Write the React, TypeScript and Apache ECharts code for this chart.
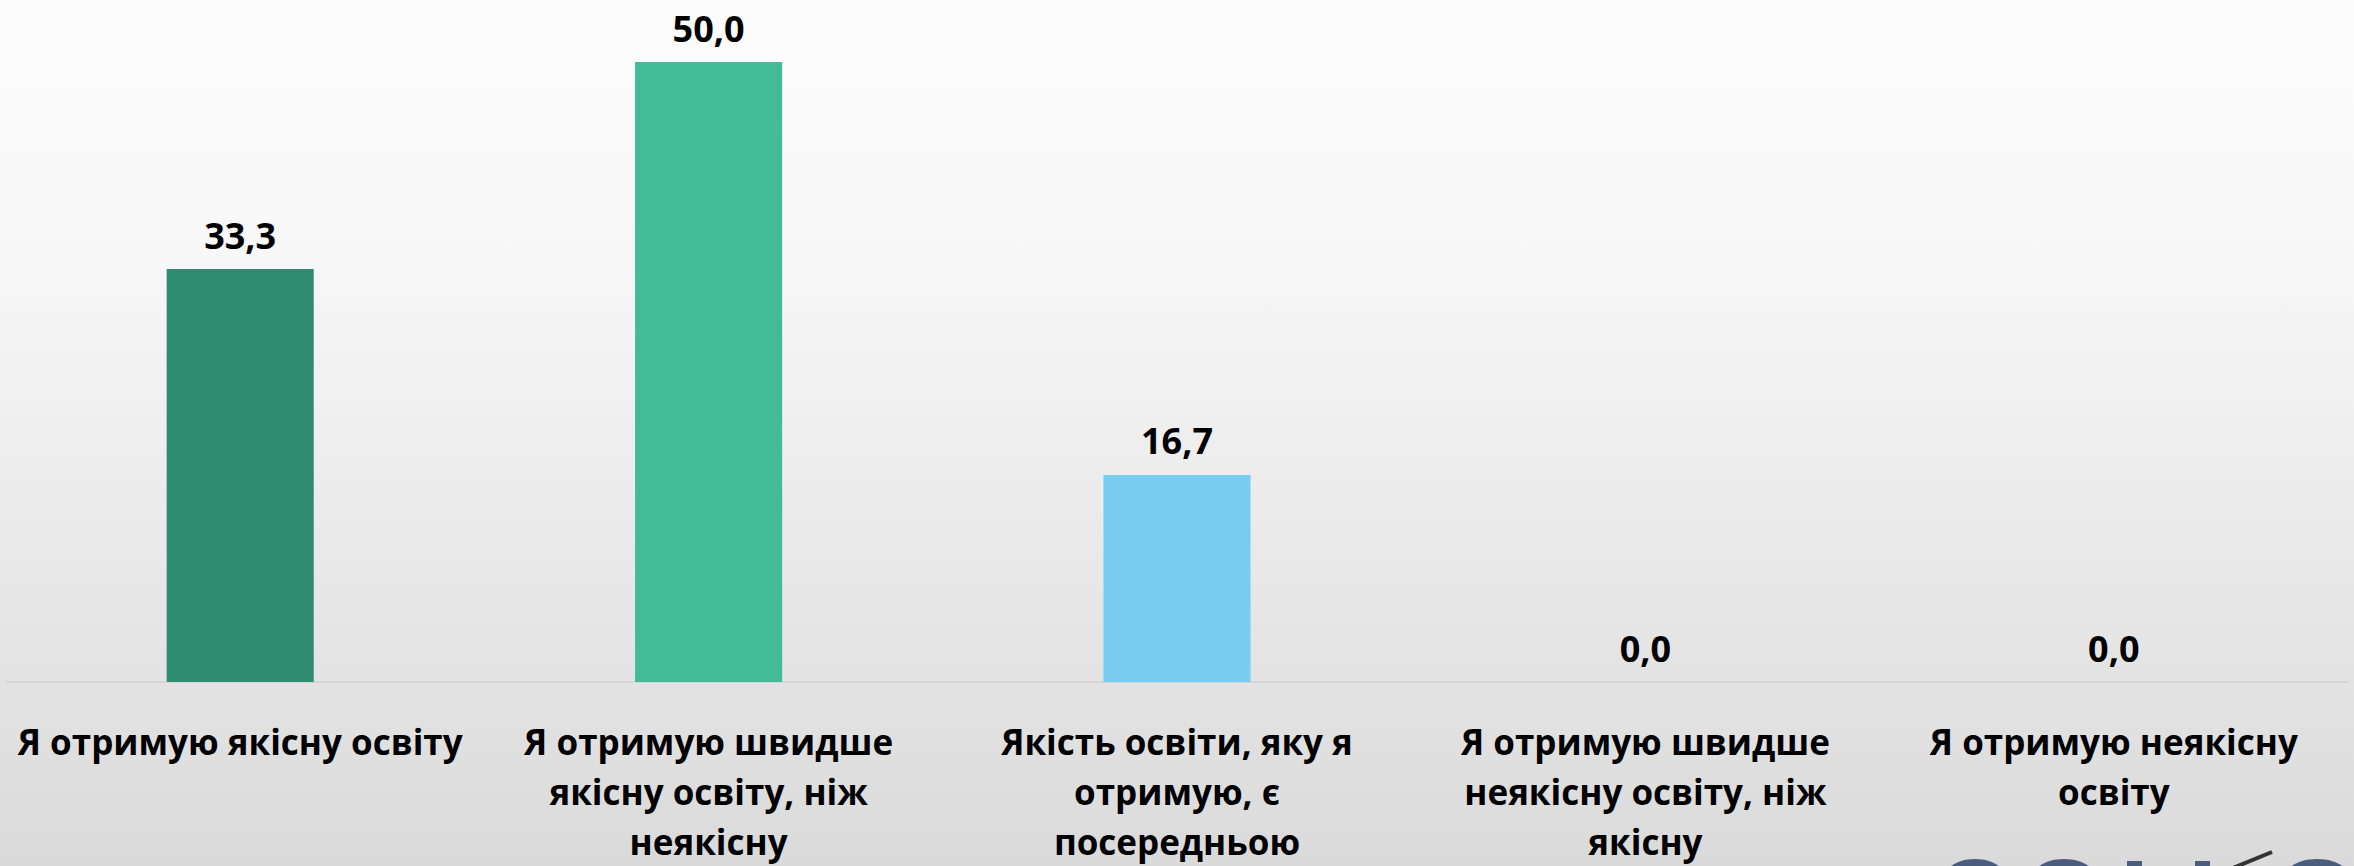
import React, { useEffect, useRef } from "react";
import * as echarts from "echarts";

const categories: string[] = [
  "Я отримую якісну освіту",
  "Я отримую швидше\nякісну освіту, ніж\nнеякісну",
  "Якість освіти, яку я\nотримую, є\nпосередньою",
  "Я отримую швидше\nнеякісну освіту, ніж\nякісну",
  "Я отримую неякісну\nосвіту",
];

const values: number[] = [33.3, 50.0, 16.7, 0.0, 0.0];

const barColors: string[] = ["#318B70", "#43BB97", "#78CDF0", "#2A7FA8", "#1F5F7F"];

const FONT = "'Open Sans', 'Noto Sans', sans-serif";

export default function App() {
  const ref = useRef<HTMLDivElement>(null);

  useEffect(() => {
    if (!ref.current) return;
    const chart = echarts.init(ref.current, null, { renderer: "svg" });
    chart.setOption({
      animation: false,
      backgroundColor: new echarts.graphic.LinearGradient(0, 0, 0, 1, [
        { offset: 0, color: "#fbfbfb" },
        { offset: 0.25, color: "#f9f9f9" },
        { offset: 1, color: "#dadada" },
      ]),
      grid: { left: 6, right: 6, top: 62, bottom: 179, containLabel: false },
      xAxis: {
        type: "category",
        data: categories,
        axisLine: { show: true, lineStyle: { color: "#d6d6d6", width: 2 } },
        axisTick: { show: false },
        axisLabel: {
          interval: 0,
          margin: 34,
          color: "#000000",
          fontFamily: FONT,
          fontWeight: "bold",
          fontSize: 35,
          lineHeight: 50,
          align: "center",
        },
      },
      yAxis: {
        type: "value",
        min: 0,
        max: 50,
        show: false,
        splitLine: { show: false },
      },
      series: [
        {
          type: "bar",
          data: values.map((v, i) => ({ value: v, itemStyle: { color: barColors[i] } })),
          barWidth: "31.4%",
          label: {
            show: true,
            position: "top",
            distance: 14,
            color: "#000000",
            fontFamily: FONT,
            fontWeight: "bold",
            fontSize: 36,
            lineHeight: 40,
            formatter: (p: any) => Number(p.value).toFixed(1).replace(".", ","),
          },
        },
      ],
      graphic: [
        { type: "ellipse", shape: { cx: 1975, cy: 874, rx: 28, ry: 15 }, style: { fill: "#4a5d7e" }, silent: true },
        { type: "ellipse", shape: { cx: 2064, cy: 874, rx: 29, ry: 15 }, style: { fill: "#4a5d7e" }, silent: true },
        { type: "rect", shape: { x: 2127, y: 861, width: 15, height: 10 }, style: { fill: "#4a5d7e" }, silent: true },
        { type: "rect", shape: { x: 2195, y: 861, width: 15, height: 10 }, style: { fill: "#4a5d7e" }, silent: true },
        { type: "line", shape: { x1: 2228, y1: 870, x2: 2272, y2: 852 }, style: { stroke: "#333333", lineWidth: 4 }, silent: true },
        { type: "ellipse", shape: { cx: 2317, cy: 874, rx: 30, ry: 15 }, style: { fill: "#4a5d7e" }, silent: true },
      ],
    });
    return () => chart.dispose();
  }, []);

  return (
    <div
      ref={ref}
      style={{ position: "fixed", left: 0, top: 0, width: 2354, height: 866 }}
    />
  );
}
